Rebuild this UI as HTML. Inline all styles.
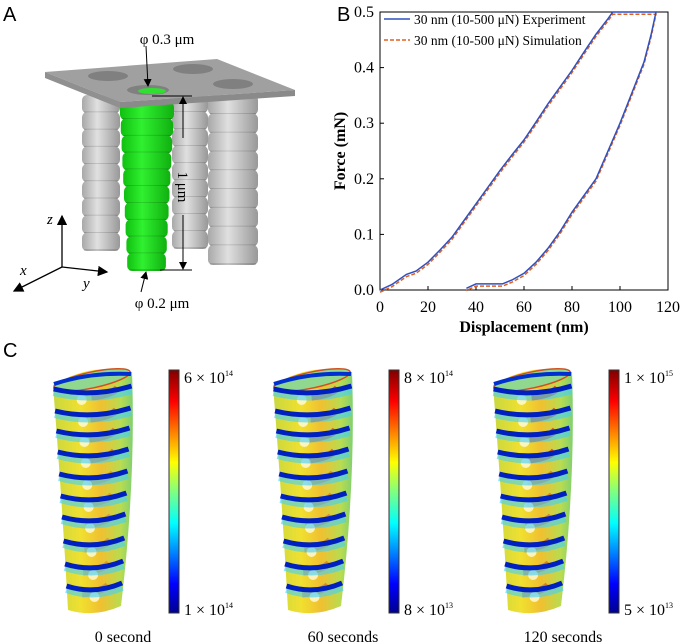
<!DOCTYPE html>
<html><head><meta charset="utf-8"><style>
html,body{margin:0;padding:0;background:#fff;}
svg{display:block;font-family:"Liberation Serif",serif;}
.pl{font-family:"Liberation Sans",sans-serif;font-size:20px;}
</style></head><body>
<svg width="682" height="644" viewBox="0 0 682 644" xmlns="http://www.w3.org/2000/svg">
<defs>
<linearGradient id="jet" x1="0" y1="1" x2="0" y2="0">
<stop offset="0" stop-color="#00008f"/><stop offset="0.12" stop-color="#0000ff"/><stop offset="0.37" stop-color="#00ffff"/><stop offset="0.5" stop-color="#80ff80"/><stop offset="0.62" stop-color="#ffff00"/><stop offset="0.87" stop-color="#ff0000"/><stop offset="1" stop-color="#800000"/>
</linearGradient>
<linearGradient id="tubeg" x1="0" y1="0" x2="1" y2="0">
<stop offset="0" stop-color="#c8d840"/><stop offset="0.35" stop-color="#f0e030"/><stop offset="0.6" stop-color="#f0c030"/><stop offset="0.85" stop-color="#b8dc50"/><stop offset="1" stop-color="#80d070"/>
</linearGradient>
<linearGradient id="greyg" x1="0" y1="0" x2="1" y2="0">
<stop offset="0" stop-color="#a8a8a8"/><stop offset="0.4" stop-color="#e0e0e0"/><stop offset="1" stop-color="#989898"/>
</linearGradient>
<linearGradient id="greeng" x1="0" y1="0" x2="1" y2="0">
<stop offset="0" stop-color="#10c010"/><stop offset="0.4" stop-color="#30f030"/><stop offset="1" stop-color="#10b010"/>
</linearGradient>
<marker id="ar" markerWidth="8" markerHeight="8" refX="7" refY="4" orient="auto"><path d="M0,0 L8,4 L0,8 z" fill="#000"/></marker>
</defs>

<text class="pl" x="3" y="21">A</text>
<g>
<g id="pillars"></g>
<polygon points="45,72 217,59 295,90 120,102" fill="#a0a0a0"/>
<polygon points="45,72 120,102 120,108 45,78" fill="#909090"/>
<polygon points="120,102 295,90 295,96 120,108" fill="#8a8a8a"/>
<ellipse cx="108" cy="76" rx="20" ry="5" fill="#808080"/>
<ellipse cx="193" cy="69" rx="20" ry="5" fill="#808080"/>
<ellipse cx="233" cy="84" rx="20" ry="5" fill="#808080"/>
<ellipse cx="148" cy="90" rx="21" ry="5" fill="#808080"/>
<ellipse cx="152" cy="91" rx="14" ry="3" fill="#30e030"/>
</g>
<g stroke="#000" stroke-width="1" fill="none">
<line x1="152" y1="96" x2="192" y2="96"/><line x1="160" y1="270" x2="192" y2="270"/>
<line x1="183" y1="138" x2="183" y2="97" marker-end="url(#ar)"/>
<line x1="183" y1="215" x2="183" y2="269" marker-end="url(#ar)"/>
<line x1="146" y1="46" x2="148" y2="86" marker-end="url(#ar)"/>
<line x1="141" y1="292" x2="146" y2="272" marker-end="url(#ar)"/>
</g>
<text x="167" y="44" font-size="15" text-anchor="middle">φ 0.3 μm</text>
<text x="162" y="308" font-size="15" text-anchor="middle">φ 0.2 μm</text>
<text x="0" y="0" font-size="15" text-anchor="middle" transform="translate(178,187) rotate(90)">1 μm</text>
<g stroke="#000" stroke-width="1.3">
<line x1="62" y1="267" x2="62" y2="216" marker-end="url(#ar)"/>
<line x1="62" y1="267" x2="14" y2="291" marker-end="url(#ar)"/>
<line x1="62" y1="267" x2="107" y2="272" marker-end="url(#ar)"/>
</g>
<text x="47" y="224" font-size="15" font-style="italic">z</text>
<text x="20" y="275" font-size="15" font-style="italic">x</text>
<text x="83" y="288" font-size="15" font-style="italic">y</text>

<text class="pl" x="337" y="21">B</text>
<g id="chartB"></g>

<text class="pl" x="3" y="357">C</text>
<g id="panelC"></g>
</svg>
<script>
const NS="http://www.w3.org/2000/svg";
function mk(tag,attrs,parent){const e=document.createElementNS(NS,tag);for(const k in attrs)e.setAttribute(k,attrs[k]);parent.appendChild(e);return e;}

const pg=document.getElementById('pillars');
function pillar(x0,x1,xb0,xb1,y0,y1,fill,name,segs){
  const g=mk('g',{},pg);
  
  
  const h=(y1-y0)/segs;
  for(let i=0;i<segs;i++){
    const t=i/segs,l=x0+(xb0-x0)*t,r=x1+(xb1-x1)*t,y=y0+i*h;
    mk('rect',{x:l,y:y,width:r-l,height:h+1,rx:5,fill:fill},g);
    mk('line',{x1:l+2,y1:y+h,x2:r-2,y2:y+h,stroke:'rgba(0,0,0,0.18)','stroke-width':1.5},g);
  }
}
pillar(82,120,82,120,95,250,'url(#greyg)','pillar-back-left',9);
pillar(172,208,172,208,95,248,'url(#greyg)','pillar-back-right',9);
pillar(208,258,208,258,95,264,'url(#greyg)','pillar-front-right',9);
pillar(120,174,128,165,102,270,'url(#greeng)','pillar-green',10);

const loadX=[0,5,11,15,20,25,30,35,40,45,50,55,60,65,70,75,80,85,90,95,97,115];
const loadY=[0,0.01,0.028,0.034,0.05,0.072,0.095,0.125,0.155,0.185,0.215,0.243,0.27,0.302,0.335,0.365,0.395,0.428,0.46,0.488,0.5,0.5];
const unloadX=[115,113,110,105,100,95,90,85,80,75,70,65,60,55,51,40,36];
const unloadY=[0.5,0.46,0.41,0.355,0.3,0.25,0.2,0.17,0.14,0.105,0.075,0.05,0.03,0.018,0.011,0.011,0.003];
const simOffset=[-0.004];
const xTicks=[0,20,40,60,80,100,120];
const yTicks=[0.0,0.1,0.2,0.3,0.4,0.5];
const X0=380,X1=668,Y0=290,Y1=12;
const sx=v=>X0+(v-0)/(120-0)*(X1-X0);
const sy=v=>Y0+(v-0)/(0.5-0)*(Y1-Y0);
const cb=document.getElementById('chartB');
const box=mk('rect',{x:X0,y:Y1,width:X1-X0,height:Y0-Y1,fill:'none',stroke:'#000','stroke-width':1},cb);


xTicks.forEach(t=>{
  mk('line',{x1:sx(t),y1:Y0,x2:sx(t),y2:Y0-4,stroke:'#000'},cb);
  const tx=mk('text',{x:sx(t),y:312,'font-size':16,'text-anchor':'middle'},cb);tx.textContent=t;
  
  
});
yTicks.forEach(t=>{
  mk('line',{x1:X0,y1:sy(t),x2:X0+4,y2:sy(t),stroke:'#000'},cb);
  const tx=mk('text',{x:374,y:sy(t)+5,'font-size':16,'text-anchor':'end'},cb);tx.textContent=t.toFixed(1);
  
  
});
const xt=mk('text',{x:(X0+X1)/2,y:332,'font-size':16,'font-weight':'bold','text-anchor':'middle'},cb);xt.textContent='Displacement (nm)';


const yt=mk('text',{x:0,y:0,'font-size':16,'font-weight':'bold','text-anchor':'middle',transform:'translate(345,151) rotate(-90)'},cb);yt.textContent='Force (mN)';


function pts(xs,ys,dy){return xs.map((x,i)=>sx(x)+','+sy(ys[i]+dy)).join(' ');}
const s1=mk('polyline',{points:pts(loadX,loadY,simOffset[0])+' '+pts(unloadX,unloadY,simOffset[0]),fill:'none',stroke:'#e06020','stroke-width':1.5,'stroke-dasharray':'4,2'},cb);


const e1=mk('polyline',{points:pts(loadX,loadY,0)+' '+pts(unloadX,unloadY,0),fill:'none',stroke:'#3050c0','stroke-width':1.5},cb);


const lg=mk('g',{},cb);


mk('line',{x1:384,y1:19,x2:410,y2:19,stroke:'#3050c0','stroke-width':1.5},lg);
let lt=mk('text',{x:414,y:24,'font-size':13.5},lg);lt.textContent='30 nm (10-500 μN) Experiment';
mk('line',{x1:384,y1:40,x2:410,y2:40,stroke:'#e06020','stroke-width':1.5,'stroke-dasharray':'4,2'},lg);
lt=mk('text',{x:414,y:45,'font-size':13.5},lg);lt.textContent='30 nm (10-500 μN) Simulation';

const pc=document.getElementById('panelC');
const capt=['0 second','60 seconds','120 seconds'];
const topLab=[['6','14'],['8','14'],['1','15']];
const botLab=[['1','14'],['8','13'],['5','13']];
const bandYs=[390,412,432,453,475,497,518,542,565,587];
const redAlpha=[0.55,0.7,0.85];
for(let k=0;k<3;k++){
  const dx=k*220;
  const g=mk('g',{transform:'translate('+dx+',0)'},pc);
  
  
  mk('path',{d:'M53,385 Q92,362 132,372 Q136,480 121,606 Q94,618 68,610 Q62,500 53,385 Z',fill:'url(#tubeg)'},g);
  mk('ellipse',{cx:92,cy:380,rx:39,ry:8,fill:'#90d890',stroke:'#d05020','stroke-width':1.5,transform:'rotate(-12 92 380)'},g);
  mk('path',{d:'M54,384 Q90,372 131,374',stroke:'#0030d0','stroke-width':4,fill:'none'},g);
  bandYs.forEach((y,i)=>{
    const t=(y-380)/230,l=53+15*t,r=132-11*t;
    mk('path',{d:'M'+(r-40)+','+(y+7)+' q20,-2 '+(r-(r-40)-14)+',-9',stroke:'#d04010','stroke-opacity':redAlpha[k]*(i<4?1:0.6),'stroke-width':7,fill:'none'},g);
    mk('circle',{cx:l+28,cy:y+10,r:5,fill:'#fffbe0','fill-opacity':0.8},g);
    mk('path',{d:'M'+l+','+(y+2)+' Q'+((l+r)/2)+','+(y+12)+' '+r+','+(y),stroke:'#40d0ff','stroke-width':8,fill:'none','stroke-opacity':0.6},g);
    mk('path',{d:'M'+l+','+(y-1)+' Q'+((l+r)/2)+','+(y+8)+' '+r+','+(y-4),stroke:'#0020c0','stroke-width':5,fill:'none'},g);
  });
  const bar=mk('rect',{x:169,y:370,width:10,height:243,fill:'url(#jet)',stroke:'#333','stroke-width':1},g);
  
  
  let t=mk('text',{x:184,y:383,'font-size':16},g);
  t.innerHTML=topLab[k][0]+' × 10<tspan dy="-7" font-size="8">'+topLab[k][1]+'</tspan>';
  
  
  t=mk('text',{x:184,y:615,'font-size':16},g);
  t.innerHTML=botLab[k][0]+' × 10<tspan dy="-7" font-size="8">'+botLab[k][1]+'</tspan>';
  
  
  t=mk('text',{x:123,y:642,'font-size':16,'text-anchor':'middle'},g);t.textContent=capt[k];
  
  
}
</script>
</body></html>
